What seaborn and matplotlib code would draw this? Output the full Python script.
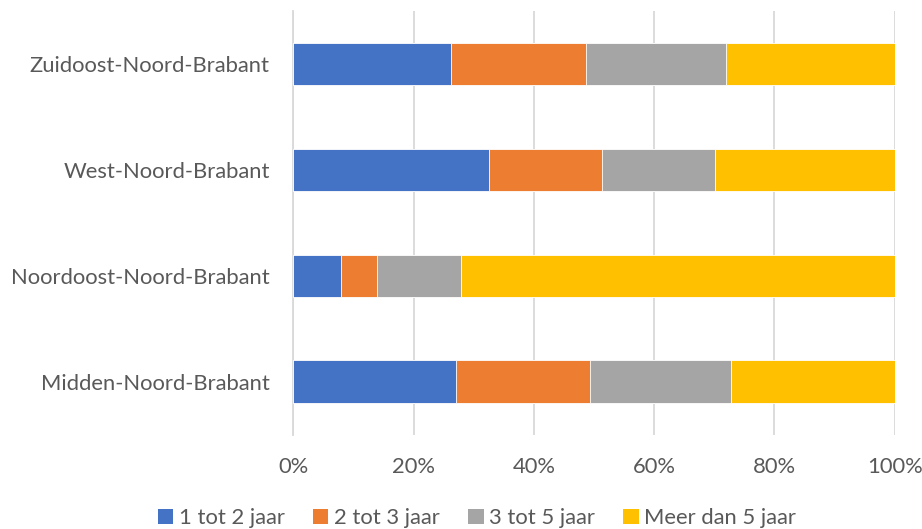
import matplotlib
matplotlib.use("Agg")
import matplotlib.pyplot as plt
from matplotlib.patches import Patch
import numpy as np
import pandas as pd
import seaborn as sns

# Share of each duration class per region (percent)
regions = ["Zuidoost-Noord-Brabant", "West-Noord-Brabant",
           "Noordoost-Noord-Brabant", "Midden-Noord-Brabant"]
series_names = ["1 tot 2 jaar", "2 tot 3 jaar", "3 tot 5 jaar", "Meer dan 5 jaar"]
een_tot_twee = [26.2, 32.5, 7.9, 27.1]
twee_tot_drie = [22.5, 18.8, 6.0, 22.2]
drie_tot_vijf = [23.2, 18.8, 14.0, 23.5]
meer_dan_vijf = [28.1, 29.9, 72.1, 27.2]
colors = ["#4472C4", "#ED7D31", "#A5A5A5", "#FFC000"]
tick_values = [0, 20, 40, 60, 80, 100]
tick_labels = ["0%", "20%", "40%", "60%", "80%", "100%"]

sns.set_theme(style="white")
plt.rcParams["font.family"] = ["Lato", "DejaVu Sans"]
text_color = "#595959"
grid_color = "#D9D9D9"
fs = 15.8

values = np.array([een_tot_twee, twee_tot_drie, drie_tot_vijf, meer_dan_vijf])
cumulative = np.cumsum(values, axis=0)

fig = plt.figure(figsize=(9.22, 5.29), dpi=100)
W, H = 922, 529
ax = fig.add_axes([293.3 / W, 1 - 434.6 / H, (894.7 - 293.3) / W, (434.6 - 10.9) / H])

# Draw the stacked bars as layered cumulative totals, longest first
for i in range(len(series_names) - 1, -1, -1):
    df = pd.DataFrame({"region": regions, "total": cumulative[i]})
    sns.barplot(data=df, x="total", y="region", order=regions, color=colors[i],
                width=0.4, orient="h", ax=ax, saturation=1,
                edgecolor="white", linewidth=0.6, zorder=3)

ax.set_xlim(0, 100)
ax.set_ylim(len(regions) - 0.5, -0.5)
ax.set_xticks(tick_values)
ax.set_xticklabels(tick_labels)
ax.set_xlabel("")
ax.set_ylabel("")
ax.xaxis.grid(True, color=grid_color, linewidth=1.3, zorder=0)
ax.set_axisbelow(True)
for side in ["top", "right", "bottom"]:
    ax.spines[side].set_visible(False)
ax.spines["left"].set_color(grid_color)
ax.spines["left"].set_linewidth(1.3)
ax.tick_params(axis="x", length=0, pad=16, labelsize=fs, labelcolor=text_color)
ax.tick_params(axis="y", length=0, pad=17, labelsize=fs, labelcolor=text_color)

handles = [Patch(facecolor=c, edgecolor="none") for c in colors]
fig.legend(handles, series_names, loc="center", bbox_to_anchor=(477 / W, 1 - 518 / H),
           ncol=4, frameon=False, fontsize=fs, labelcolor=text_color,
           handlelength=0.7, handleheight=0.7, handletextpad=0.25, columnspacing=1.3)

fig.savefig("out.png", dpi=100, facecolor="white")
